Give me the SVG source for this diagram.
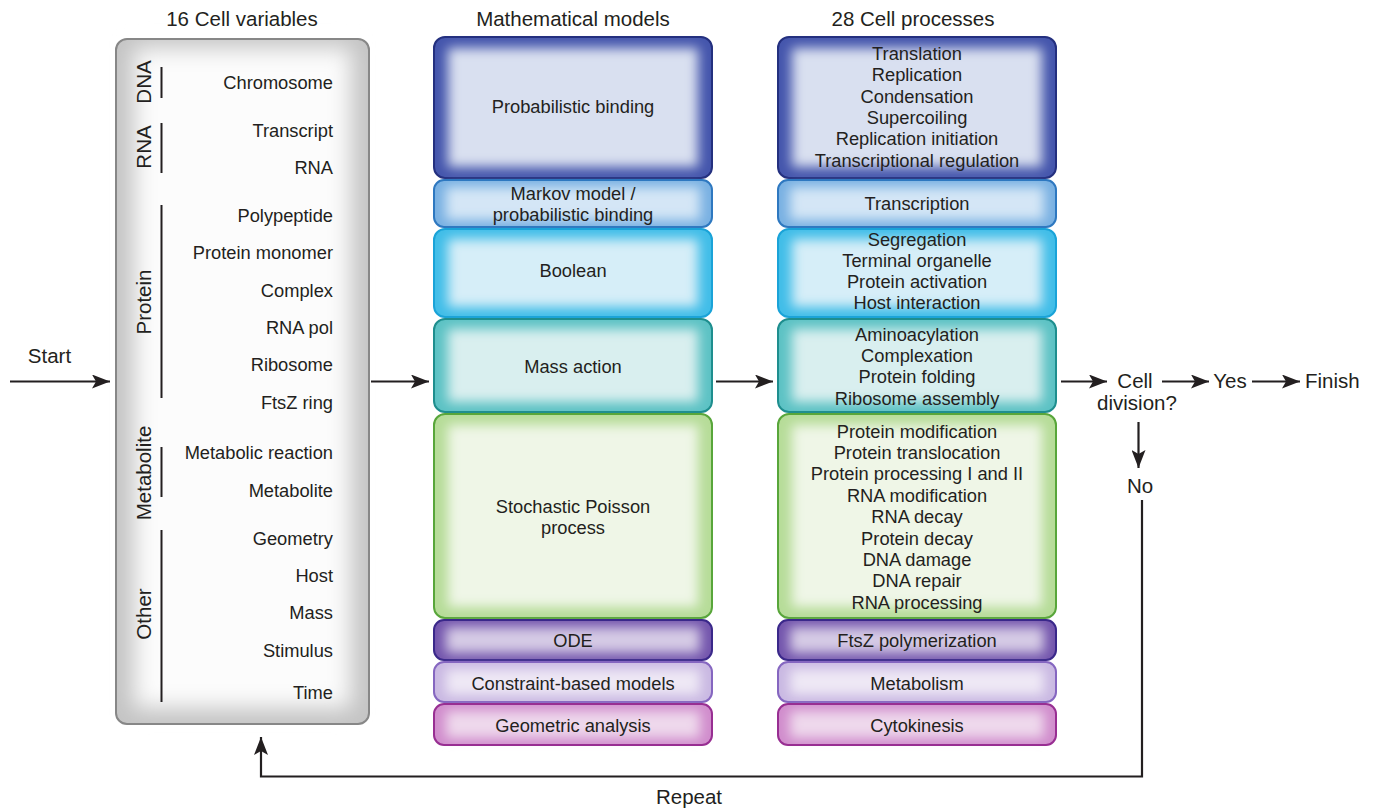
<svg xmlns="http://www.w3.org/2000/svg" width="1375" height="808" viewBox="0 0 1375 808">
<style>
text{font-family:"Liberation Sans",Arial,sans-serif;fill:#231f20}
.t{font-size:18.3px;text-anchor:middle}
.v{font-size:18.3px;text-anchor:end}
.L{font-size:20.5px}
.c{text-anchor:middle}
.bd{fill:none;stroke-width:2}
.ln{stroke:#231f20;stroke-width:2.2;fill:none}
.cl{stroke:#231f20;stroke-width:2}
</style>
<defs>
<filter id="soft" filterUnits="userSpaceOnUse" x="0" y="0" width="1375" height="808"><feGaussianBlur stdDeviation="6"/></filter>
<filter id="soft2" filterUnits="userSpaceOnUse" x="0" y="0" width="1375" height="808"><feGaussianBlur stdDeviation="11"/></filter>
<marker id="ah" markerUnits="userSpaceOnUse" markerWidth="19" markerHeight="14" refX="18" refY="7" orient="auto">
<path d="M0,0 L18,7 L0,14 L4,7 z" fill="#231f20"/>
</marker>
</defs>
<rect width="1375" height="808" fill="#fff"/>

<text class="L c" x="242" y="26">16 Cell variables</text>
<text class="L c" x="573" y="26">Mathematical models</text>
<text class="L c" x="913" y="26">28 Cell processes</text>

<g id="variables">
<rect x="116" y="39" width="253" height="685" rx="11" fill="#c4c4c4"/>
<rect x="134" y="48" width="217" height="660" fill="#fcfcfc" filter="url(#soft2)"/>
<rect x="116" y="39" width="253" height="685" rx="11" class="bd" stroke="#878787"/>
<g class="cl">
<line x1="161.5" y1="67" x2="161.5" y2="98"/>
<line x1="161.5" y1="123" x2="161.5" y2="173"/>
<line x1="161.5" y1="205" x2="161.5" y2="398"/>
<line x1="161.5" y1="447" x2="161.5" y2="497"/>
<line x1="161.5" y1="530" x2="161.5" y2="702"/>
</g>
<text class="L c" transform="translate(151,82) rotate(-90)">DNA</text>
<text class="L c" transform="translate(151,147) rotate(-90)">RNA</text>
<text class="L c" transform="translate(151,302) rotate(-90)">Protein</text>
<text class="L c" transform="translate(151,473) rotate(-90)">Metabolite</text>
<text class="L c" transform="translate(151,614) rotate(-90)">Other</text>
<text class="v" x="333" y="88.5">Chromosome</text>
<text class="v" x="333" y="136.5">Transcript</text>
<text class="v" x="333" y="173.5">RNA</text>
<text class="v" x="333" y="221.5">Polypeptide</text>
<text class="v" x="333" y="258.5">Protein monomer</text>
<text class="v" x="333" y="296.5">Complex</text>
<text class="v" x="333" y="333.5">RNA pol</text>
<text class="v" x="333" y="370.5">Ribosome</text>
<text class="v" x="333" y="408.5">FtsZ ring</text>
<text class="v" x="333" y="458.5">Metabolic reaction</text>
<text class="v" x="333" y="496.5">Metabolite</text>
<text class="v" x="333" y="544.5">Geometry</text>
<text class="v" x="333" y="581.5">Host</text>
<text class="v" x="333" y="618.5">Mass</text>
<text class="v" x="333" y="656.5">Stimulus</text>
<text class="v" x="333" y="698.5">Time</text>
</g>

<!-- Mathematical models -->
<g id="m-prob">
<rect x="434" y="37" width="278" height="141" rx="11" fill="#4455ac"/>
<rect x="448" y="48" width="250" height="119" fill="#d9e0f0" filter="url(#soft)"/>
<rect x="434" y="37" width="278" height="141" rx="11" class="bd" stroke="#24307f"/>
<text class="t" x="573" y="112.5">Probabilistic binding</text>
</g>
<g id="m-markov">
<rect x="434" y="180" width="278" height="47" rx="10" fill="#78b0e2"/>
<rect x="446" y="187" width="254" height="33" fill="#d4e6f6" filter="url(#soft)"/>
<rect x="434" y="180" width="278" height="47" rx="10" class="bd" stroke="#2e78c0"/>
<text class="t" x="573" y="199.5">Markov model /</text>
<text class="t" x="573" y="220.5">probabilistic binding</text>
</g>
<g id="m-bool">
<rect x="434" y="229" width="278" height="88" rx="11" fill="#40bde8"/>
<rect x="448" y="239" width="250" height="68" fill="#d6eef8" filter="url(#soft)"/>
<rect x="434" y="229" width="278" height="88" rx="11" class="bd" stroke="#1aa3d8"/>
<text class="t" x="573" y="276.5">Boolean</text>
</g>
<g id="m-mass">
<rect x="434" y="319" width="278" height="93" rx="11" fill="#5cc2c4"/>
<rect x="448" y="329" width="250" height="73" fill="#d9efef" filter="url(#soft)"/>
<rect x="434" y="319" width="278" height="93" rx="11" class="bd" stroke="#1e8e8e"/>
<text class="t" x="573" y="372.5">Mass action</text>
</g>
<g id="m-stoch">
<rect x="434" y="414" width="278" height="204" rx="11" fill="#b6dc98"/>
<rect x="448" y="425" width="250" height="182" fill="#eff6e7" filter="url(#soft)"/>
<rect x="434" y="414" width="278" height="204" rx="11" class="bd" stroke="#58a63a"/>
<text class="t" x="573" y="512.5">Stochastic Poisson</text>
<text class="t" x="573" y="533.5">process</text>
</g>
<g id="m-ode">
<rect x="434" y="620" width="278" height="40" rx="10" fill="#7254ac"/>
<rect x="446" y="627" width="254" height="26" fill="#d5cae5" filter="url(#soft)"/>
<rect x="434" y="620" width="278" height="40" rx="10" class="bd" stroke="#3a288a"/>
<text class="t" x="573" y="646.5">ODE</text>
</g>
<g id="m-cons">
<rect x="434" y="662" width="278" height="40" rx="10" fill="#c9b8e2"/>
<rect x="446" y="669" width="254" height="26" fill="#eee8f5" filter="url(#soft)"/>
<rect x="434" y="662" width="278" height="40" rx="10" class="bd" stroke="#8566c0"/>
<text class="t" x="573" y="689.5">Constraint-based models</text>
</g>
<g id="m-geom">
<rect x="434" y="704" width="278" height="41" rx="10" fill="#d08ccc"/>
<rect x="446" y="711" width="254" height="27" fill="#eed8ec" filter="url(#soft)"/>
<rect x="434" y="704" width="278" height="41" rx="10" class="bd" stroke="#982e92"/>
<text class="t" x="573" y="731.5">Geometric analysis</text>
</g>

<!-- Cell processes -->
<g id="p-prob">
<rect x="778" y="37" width="278" height="141" rx="11" fill="#4455ac"/>
<rect x="792" y="48" width="250" height="119" fill="#d9e0f0" filter="url(#soft)"/>
<rect x="778" y="37" width="278" height="141" rx="11" class="bd" stroke="#24307f"/>
<text class="t" x="917" y="60">Translation</text>
<text class="t" x="917" y="81.3">Replication</text>
<text class="t" x="917" y="102.6">Condensation</text>
<text class="t" x="917" y="123.9">Supercoiling</text>
<text class="t" x="917" y="145.2">Replication initiation</text>
<text class="t" x="917" y="166.5">Transcriptional regulation</text>
</g>
<g id="p-markov">
<rect x="778" y="180" width="278" height="47" rx="10" fill="#78b0e2"/>
<rect x="790" y="187" width="254" height="33" fill="#d4e6f6" filter="url(#soft)"/>
<rect x="778" y="180" width="278" height="47" rx="10" class="bd" stroke="#2e78c0"/>
<text class="t" x="917" y="209.5">Transcription</text>
</g>
<g id="p-bool">
<rect x="778" y="229" width="278" height="88" rx="11" fill="#40bde8"/>
<rect x="792" y="239" width="250" height="68" fill="#d6eef8" filter="url(#soft)"/>
<rect x="778" y="229" width="278" height="88" rx="11" class="bd" stroke="#1aa3d8"/>
<text class="t" x="917" y="245.5">Segregation</text>
<text class="t" x="917" y="266.7">Terminal organelle</text>
<text class="t" x="917" y="287.9">Protein activation</text>
<text class="t" x="917" y="309">Host interaction</text>
</g>
<g id="p-mass">
<rect x="778" y="319" width="278" height="93" rx="11" fill="#5cc2c4"/>
<rect x="792" y="329" width="250" height="73" fill="#d9efef" filter="url(#soft)"/>
<rect x="778" y="319" width="278" height="93" rx="11" class="bd" stroke="#1e8e8e"/>
<text class="t" x="917" y="340.5">Aminoacylation</text>
<text class="t" x="917" y="361.7">Complexation</text>
<text class="t" x="917" y="383">Protein folding</text>
<text class="t" x="917" y="404.5">Ribosome assembly</text>
</g>
<g id="p-stoch">
<rect x="778" y="414" width="278" height="204" rx="11" fill="#b6dc98"/>
<rect x="792" y="425" width="250" height="182" fill="#eff6e7" filter="url(#soft)"/>
<rect x="778" y="414" width="278" height="204" rx="11" class="bd" stroke="#58a63a"/>
<text class="t" x="917" y="437.5">Protein modification</text>
<text class="t" x="917" y="458.9">Protein translocation</text>
<text class="t" x="917" y="480.3">Protein processing I and II</text>
<text class="t" x="917" y="501.7">RNA modification</text>
<text class="t" x="917" y="523.1">RNA decay</text>
<text class="t" x="917" y="544.5">Protein decay</text>
<text class="t" x="917" y="565.9">DNA damage</text>
<text class="t" x="917" y="587.3">DNA repair</text>
<text class="t" x="917" y="608.7">RNA processing</text>
</g>
<g id="p-ode">
<rect x="778" y="620" width="278" height="40" rx="10" fill="#7254ac"/>
<rect x="790" y="627" width="254" height="26" fill="#d5cae5" filter="url(#soft)"/>
<rect x="778" y="620" width="278" height="40" rx="10" class="bd" stroke="#3a288a"/>
<text class="t" x="917" y="646.5">FtsZ polymerization</text>
</g>
<g id="p-cons">
<rect x="778" y="662" width="278" height="40" rx="10" fill="#c9b8e2"/>
<rect x="790" y="669" width="254" height="26" fill="#eee8f5" filter="url(#soft)"/>
<rect x="778" y="662" width="278" height="40" rx="10" class="bd" stroke="#8566c0"/>
<text class="t" x="917" y="689.5">Metabolism</text>
</g>
<g id="p-geom">
<rect x="778" y="704" width="278" height="41" rx="10" fill="#d08ccc"/>
<rect x="790" y="711" width="254" height="27" fill="#eed8ec" filter="url(#soft)"/>
<rect x="778" y="704" width="278" height="41" rx="10" class="bd" stroke="#982e92"/>
<text class="t" x="917" y="731.5">Cytokinesis</text>
</g>

<g id="start"><text class="L c" x="49.5" y="362.5">Start</text></g>
<g id="decision">
<text class="L c" x="1135" y="387.5">Cell</text>
<text class="L c" x="1137" y="409.5">division?</text>
</g>
<g id="yes"><text class="L c" x="1230" y="387.5">Yes</text></g>
<g id="finish"><text class="L" x="1305" y="387.5">Finish</text></g>
<g id="no"><text class="L c" x="1140" y="492.5">No</text></g>
<g id="repeat"><text class="L c" x="689" y="804">Repeat</text></g>

<g id="connectors" class="ln">
<line x1="10" y1="381.5" x2="110" y2="381.5" marker-end="url(#ah)"/>
<line x1="371" y1="381.5" x2="429" y2="381.5" marker-end="url(#ah)"/>
<line x1="716" y1="381.5" x2="773" y2="381.5" marker-end="url(#ah)"/>
<line x1="1061" y1="381.5" x2="1107" y2="381.5" marker-end="url(#ah)"/>
<line x1="1162" y1="381.5" x2="1209" y2="381.5" marker-end="url(#ah)"/>
<line x1="1252" y1="381.5" x2="1300" y2="381.5" marker-end="url(#ah)"/>
<line x1="1138.5" y1="422" x2="1138.5" y2="468" marker-end="url(#ah)"/>
<polyline points="1142,500 1142,776.5 261,776.5 261,737" marker-end="url(#ah)"/>
</g>
</svg>
